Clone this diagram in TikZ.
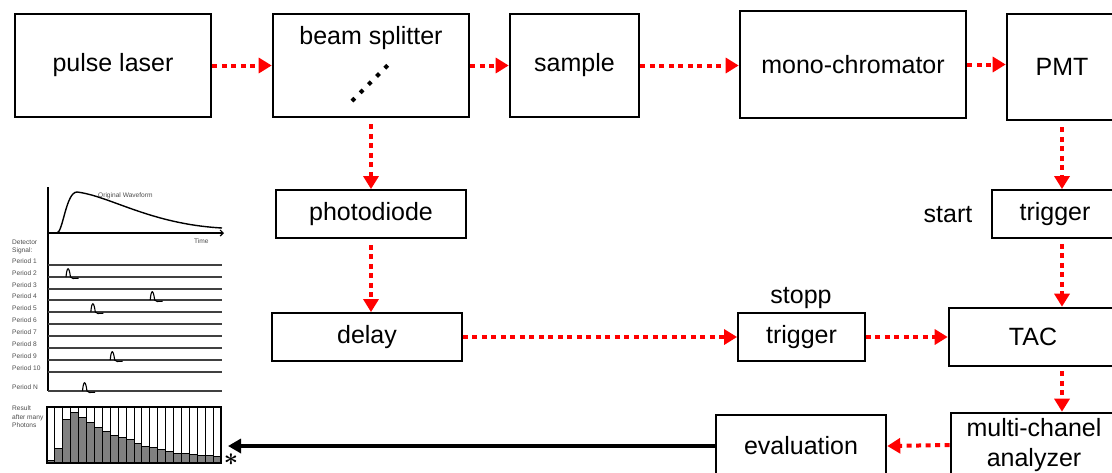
\documentclass[tikz,border=0pt]{standalone}
\usepackage{fontspec}
\setmainfont{Liberation Sans}
\usetikzlibrary{arrows.meta,positioning}
\definecolor{red10}{RGB}{255, 0, 0}
\definecolor{gray10}{RGB}{128, 128, 128}
\tikzset{
  bigbox/.style={draw, line width=2.6pt, inner sep=0pt, font=\fontsize{25}{30}\selectfont},
  smallbox/.style={draw, line width=1.8pt, inner sep=0pt, font=\fontsize{25}{30}\selectfont},
  lbl/.style={font=\fontsize{25}{30}\selectfont, inner sep=0pt},
  beam/.style={red10, line width=4pt, dash pattern=on 5pt off 4.5pt, -{Triangle[length=13pt, width=15pt]}},
  signal/.style={line width=4pt, -{Triangle[length=13pt, width=14pt]}},
  tiny/.style={font=\fontsize{6.6}{8.5}\selectfont, text=black!70, inner sep=0pt, anchor=west, align=left},
}
\begin{document}
\begin{tikzpicture}[x=1pt, y=-1pt]
  \useasboundingbox (0,0) rectangle (1112,472);
  % optical path
  \node[bigbox, minimum width=196, minimum height=103] (laser)  at (113,65.5) {pulse laser};
  \node[bigbox, minimum width=196, minimum height=103] (bs)     at (371,65.5) {};
  \node[lbl] (bslabel) at (371,38) {beam splitter};
  \draw[line width=4pt, dash pattern=on 4pt off 7.6pt] ([shift={(-19,35.5)}]bs.center) -- ([shift={(17,-0.5)}]bs.center);
  \node[bigbox, minimum width=129, minimum height=103] (sample) at (574.5,65.5) {sample};
  \node[bigbox, minimum width=226, minimum height=107] (mono)   at (853,64.5) {mono-chromator};
  \node[bigbox, minimum width=110, minimum height=106] (pmt)    at (1062,67) {PMT};
  % electronics
  \node[smallbox, minimum width=190, minimum height=48] (photo)     at (371,214) {photodiode};
  \node[smallbox, minimum width=190, minimum height=48] (delay)     at (367,337) {delay};
  \node[smallbox, minimum width=127, minimum height=48] (trigstop)  at (801.5,337) {trigger};
  \node[lbl] (stopp) at (801,298) {stopp};
  \node[smallbox, minimum width=126, minimum height=48] (trigstart) at (1055,214) {trigger};
  \node[lbl] (start) at (948,215) {start};
  \node[bigbox, minimum width=168, minimum height=58] (tac)  at (1033,337) {TAC};
  \node[bigbox, minimum width=166, minimum height=64, align=center] (mca)  at (1034,445) {multi-chanel\\analyzer};
  \node[bigbox, minimum width=170, minimum height=62] (eval) at (801,446) {evaluation};
  % connectors
  \draw[beam] (laser.east) -- (bs.west);
  \draw[beam] (bs.east) -- (sample.west);
  \draw[beam] (sample.east) -- (sample.east -| mono.west);
  \draw[beam] (mono.east) -- (mono.east -| pmt.west);
  \draw[beam, shorten <=6pt] (bs.south) -- (photo.north);
  \draw[beam, shorten <=6pt] (photo.south) -- (photo.south |- delay.north);
  \draw[beam, shorten <=6pt] (pmt.south) -- (pmt.south |- trigstart.north);
  \draw[beam, shorten <=5pt] (pmt.south |- trigstart.south) -- (pmt.south |- tac.north);
  \draw[beam, shorten <=4pt] (pmt.south |- tac.south) -- (pmt.south |- mca.north);
  \draw[beam] (delay.east) -- (trigstop.west);
  \draw[beam] (trigstop.east) -- (tac.west);
  \draw[beam] (mca.west) -- (eval.east);
  \coordinate (histend) at (228,445);
  \draw[signal] (eval.west) -- (eval.west -| histend);
  % original waveform
  \draw[line width=1.4pt] (48,187) -- (48,391);
  \draw[line width=1.2pt, -{Straight Barb[length=3pt, width=6pt]}] (48,233) -- (224,233);
  \draw[line width=1.4pt] (57,233) .. controls (63,232) and (66,192) .. (77,192)
    .. controls (110,196) and (150,224) .. (222,228);
  \node[tiny] (orig) at (98,196) {Original Waveform};
  \node[tiny] (time) at (194,241) {Time};
  \node[tiny] (detector) at (12,247) {Detector\\Signal:};
  % detector periods
  \foreach \p/\y in {1/265, 2/277, 3/289, 4/300, 5/312, 6/324, 7/336, 8/348, 9/360, 10/372, N/391} {
    \draw[line width=1.3pt, black!75] (48,\y) -- (222,\y);
    \node[tiny] at (12,{\y-4}) {Period \p};
  }
  \foreach \px/\py in {68.5/277, 152.7/300, 93.3/312, 112.7/360, 85/391}
    \draw[line width=1.1pt] ({\px-2.5},\py) .. controls ({\px-1.5},{\py-11}) and ({\px+0.5},{\py-11}) .. ({\px+2},\py)
      .. controls ({\px+3},{\py+2}) and ({\px+5},{\py+1.5}) .. ({\px+10},{\py+1.2});
  % histogram
  \node[tiny] (result) at (12,417) {Result\\after many\\Photons};
  \foreach \top [count=\i from 0] in {460.7, 448, 419, 412, 417, 422, 427, 431, 435, 437, 439, 443, 446, 447, 449, 451, 453, 453, 454, 455, 455, 456} {
    \filldraw[fill=gray10, line width=1pt] ({47+\i*7.909},463) rectangle ({47+(\i+1)*7.909},\top);
    \draw[line width=1pt] ({47+\i*7.909},407) -- ({47+\i*7.909},463);
  }
  \draw[line width=1.8pt] (47,407) rectangle (221,463);
  \node[inner sep=0pt, font=\fontsize{32}{32}\selectfont\boldmath] (star) at (231,460) {$\ast$};
\end{tikzpicture}
\end{document}
